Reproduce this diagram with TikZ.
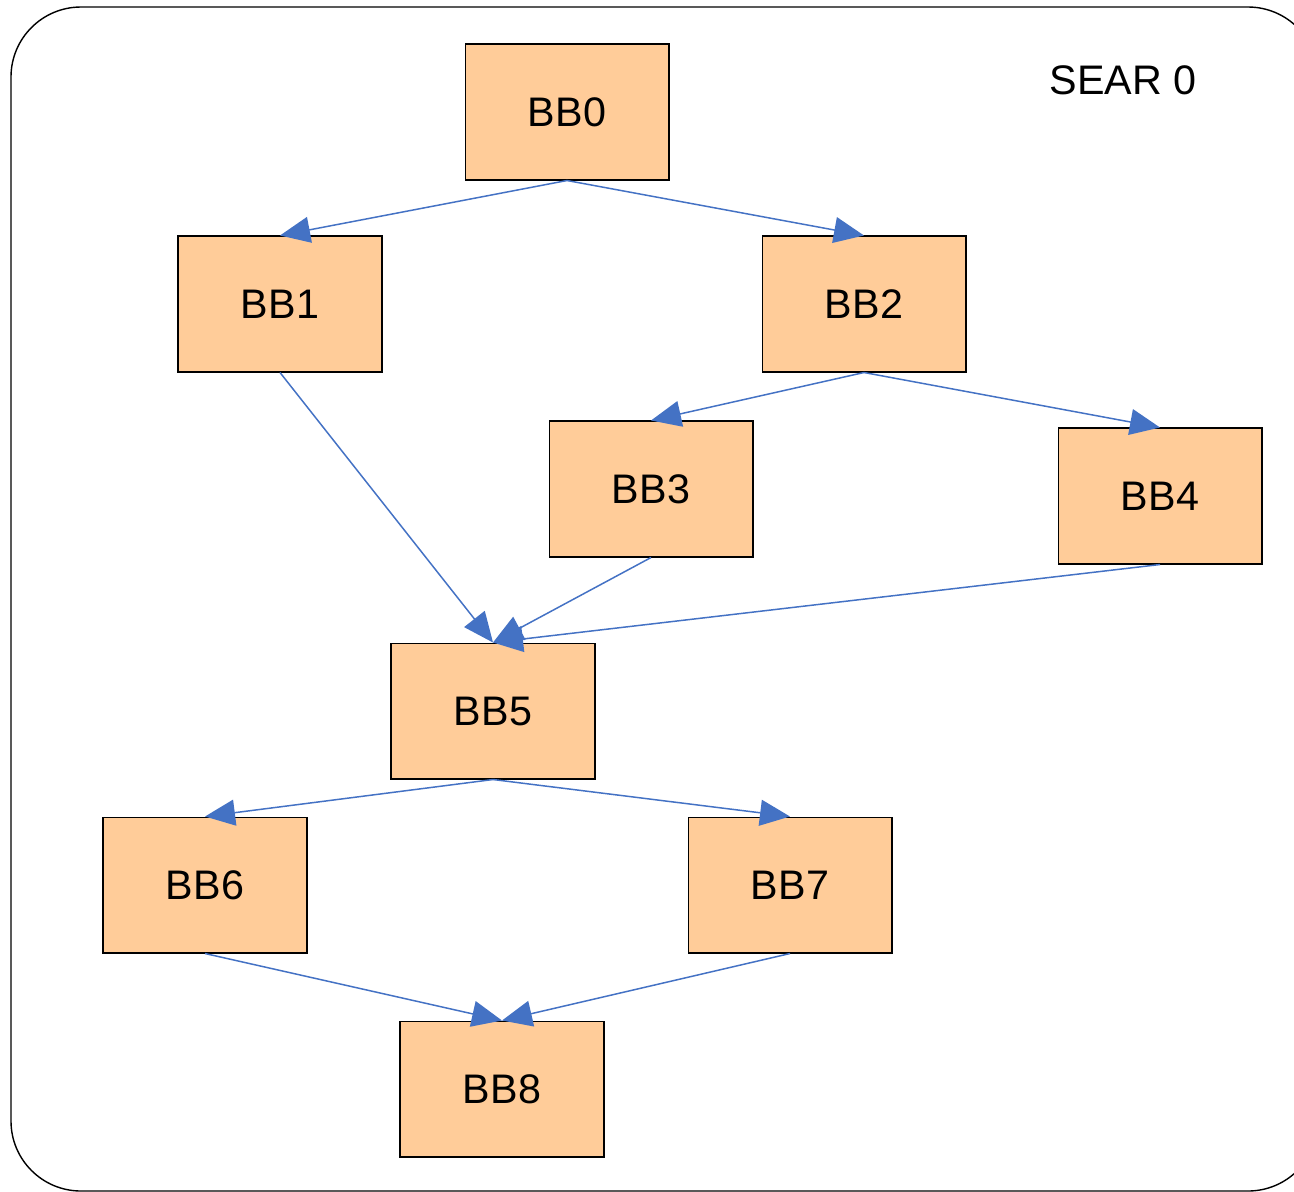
\documentclass[tikz,border=0pt]{standalone}
\usepackage{fontspec}
\setmainfont{Liberation Sans}
\usepackage{xcolor}
\usepackage{tikz}
\usetikzlibrary{arrows.meta}

\definecolor{bbfill}{RGB}{255,204,153}
\definecolor{edgeblue}{RGB}{68,114,196}

\begin{document}
\begin{tikzpicture}
    [
      x=0.02cm, y=-0.02cm,
      bb/.style = {draw, line width=0.6pt, fill=bbfill, minimum width=4.08cm,
                   minimum height=2.72cm, font=\fontsize{23.5}{26}\selectfont},
      flow/.style = {edgeblue, line width=0.85pt,
                     -{Triangle[length=0.6cm, width=0.52cm]}},
    ]

    \useasboundingbox (0,0) rectangle (1294,1191);
    \clip (0,0) rectangle (1294,1191);
    \draw[line width=0.8pt, rounded corners=1.4cm] (11,7) rectangle (1318,1191);

    \node[font=\fontsize{23.5}{26}\selectfont] (sear) at (1123,80) {SEAR 0};

    \node[bb] (bb0) at (567,112) {BB0};
    \node[bb] (bb1) at (280,304) {BB1};
    \node[bb] (bb2) at (864,304) {BB2};
    \node[bb] (bb3) at (651,489) {BB3};
    \node[bb] (bb4) at (1160,496) {BB4};
    \node[bb] (bb5) at (493,711) {BB5};
    \node[bb] (bb6) at (205,885) {BB6};
    \node[bb] (bb7) at (790,885) {BB7};
    \node[bb] (bb8) at (502,1089) {BB8};

    \draw[flow] (bb0.south) -- (bb1.north);
    \draw[flow] (bb0.south) -- (bb2.north);
    \draw[flow] (bb2.south) -- (bb3.north);
    \draw[flow] (bb2.south) -- (bb4.north);
    \draw[flow] (bb1.south) -- (bb5.north);
    \draw[flow] (bb3.south) -- (bb5.north);
    \draw[flow] (bb4.south) -- (bb5.north);
    \draw[flow] (bb5.south) -- (bb6.north);
    \draw[flow] (bb5.south) -- (bb7.north);
    \draw[flow] (bb6.south) -- (bb8.north);
    \draw[flow] (bb7.south) -- (bb8.north);
  \end{tikzpicture}
\end{document}
